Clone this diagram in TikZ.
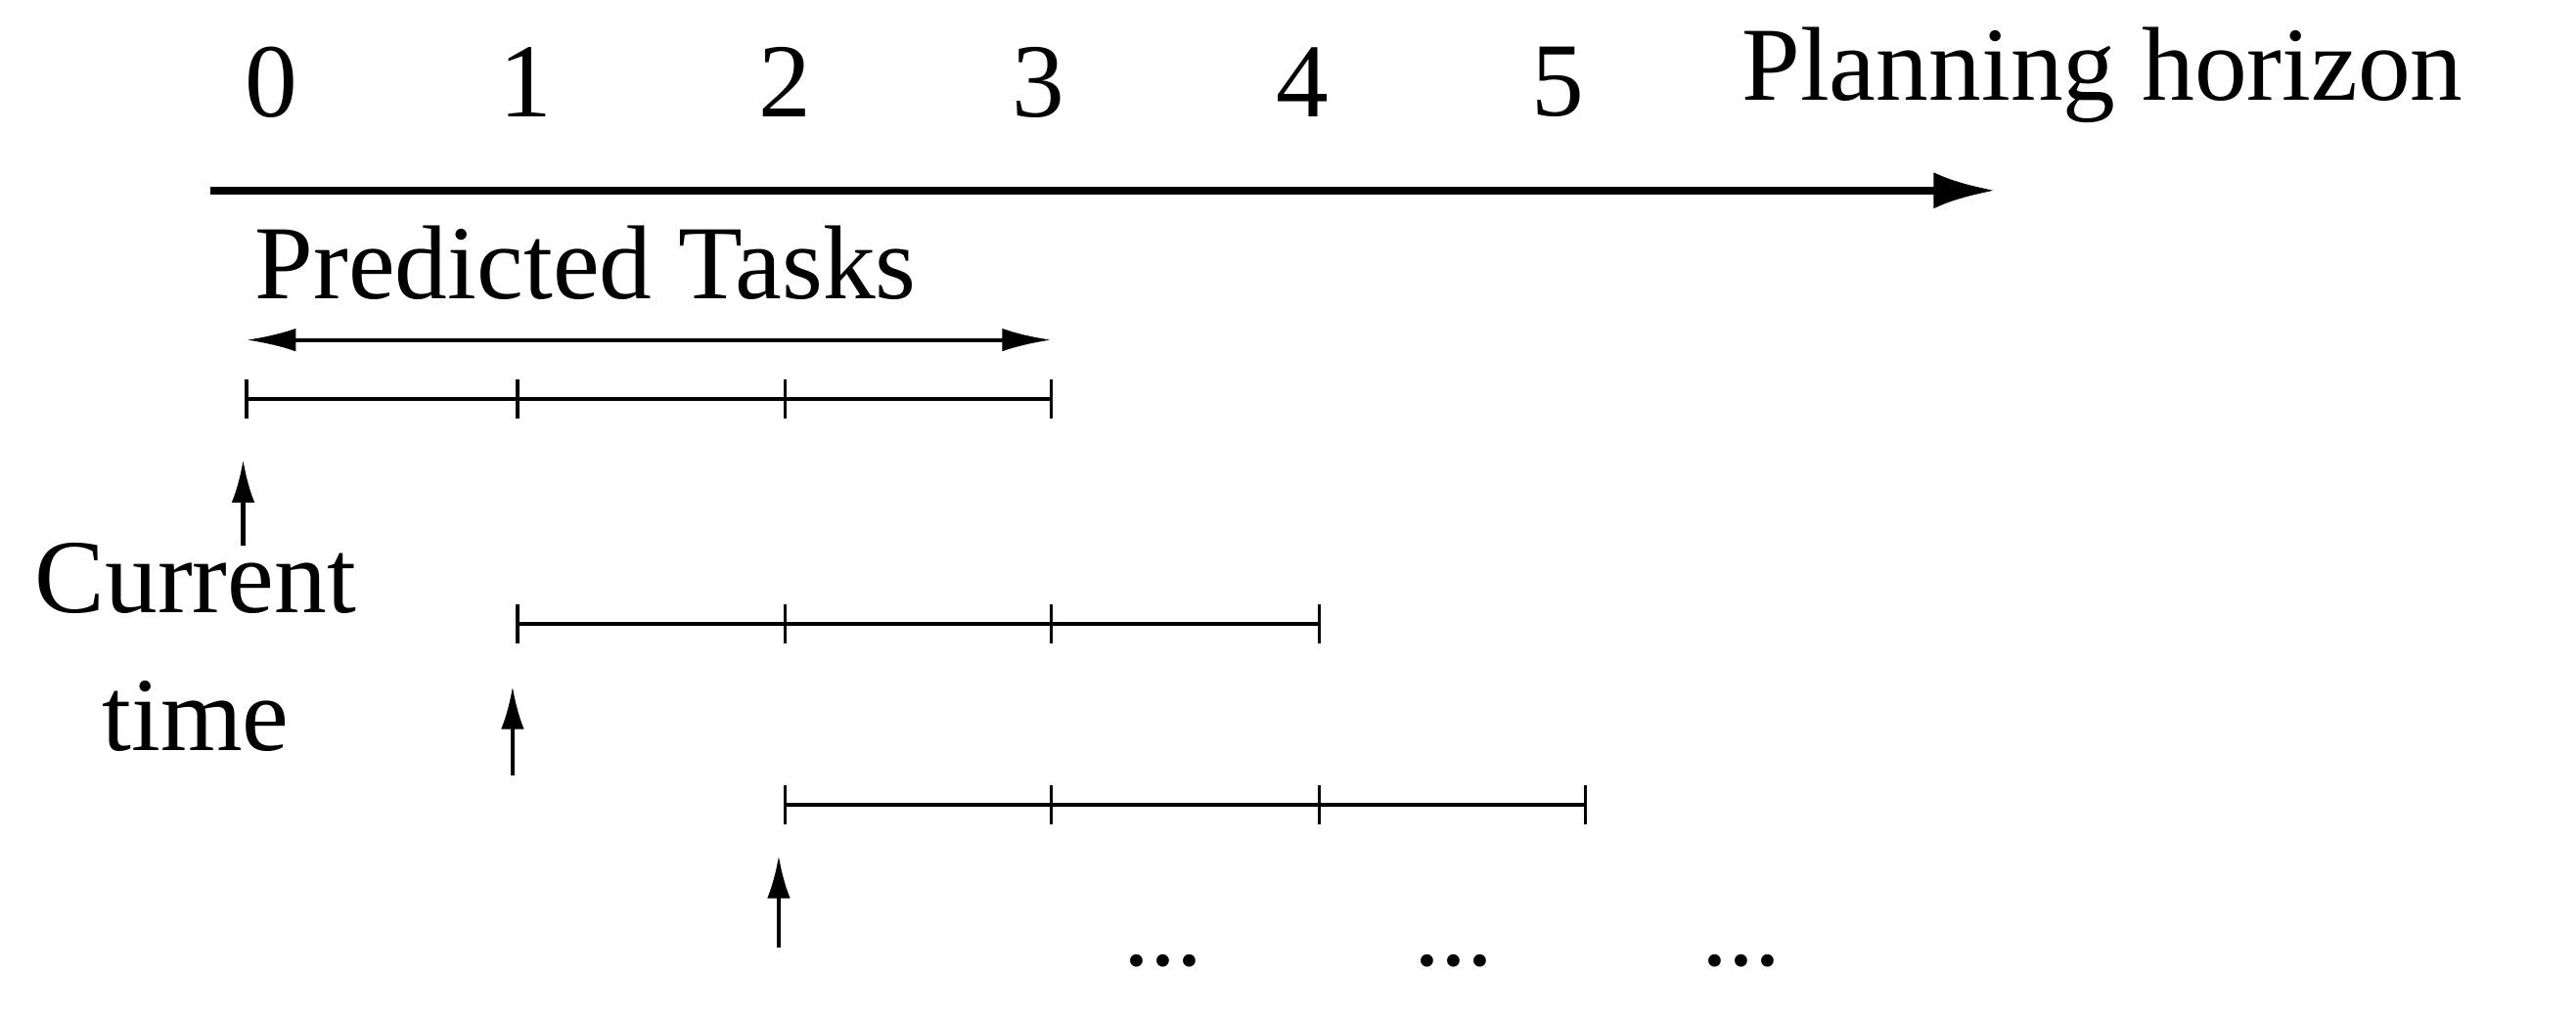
\documentclass[tikz,border=0pt]{standalone}
\usepackage{fontspec}
\setmainfont{Liberation Serif}
\usetikzlibrary{arrows.meta}
\begin{document}
\begin{tikzpicture}[x=1pt,y=-1pt,
  lbl/.style={inner sep=0pt,font=\fontsize{64}{76}\selectfont},
  seg/.style={line width=2pt},
  up/.style={line width=2.5pt,-{Latex[length=26pt,width=14pt]}},
  dots/.style={inner sep=0pt,font=\fontsize{64}{76}\selectfont}]
\useasboundingbox (0,0) rectangle (1568,619);
% main axis
\coordinate (a0) at (128,116);
\coordinate (a1) at (1215,116);
\draw[line width=5pt,-{Latex[length=38pt,width=22pt]}] (a0) -- (a1);
\foreach \x/\t [count=\i] in {165/0,320/1,478/2,632/3,793/4,948/5}
  \node[lbl] (n\i) at (\x,50) {\t};
\node[lbl,anchor=west] (ph) at (1060,46) {Planning horizon};
\node[lbl,anchor=west] (pt) at (155,160) {Predicted Tasks};
\coordinate (d0) at (150,207);
\coordinate (d1) at (640,207);
\draw[line width=2.5pt,{Latex[length=30pt,width=14pt]}-{Latex[length=30pt,width=14pt]}] (d0) -- (d1);
% rows
\foreach \y/\a/\b/\c/\d [count=\r] in {243/150/315/478/640, 380/315/478/640/803, 490/478/640/803/965}{
  \coordinate (r\r a) at (\a,\y);
  \coordinate (r\r d) at (\d,\y);
  \draw[seg] (r\r a) -- (r\r d);
  \foreach \x in {\a,\b,\c,\d} \draw[seg] (\x,\y-12) -- (\x,\y+12);
}
% up arrows
\coordinate (u1a) at (148,332); \coordinate (u1b) at (148,280);
\coordinate (u2a) at (312,472); \coordinate (u2b) at (312,418);
\coordinate (u3a) at (474,577); \coordinate (u3b) at (474,521);
\draw[up] (u1a) -- (u1b);
\draw[up] (u2a) -- (u2b);
\draw[up] (u3a) -- (u3b);
\node[lbl] (ct1) at (119,352) {Current};
\node[lbl] (ct2) at (119,436) {time};
\node[dots] (e1) at (708,585) {...};
\node[dots] (e2) at (885,585) {...};
\node[dots] (e3) at (1060,585) {...};
\end{tikzpicture}
\end{document}
